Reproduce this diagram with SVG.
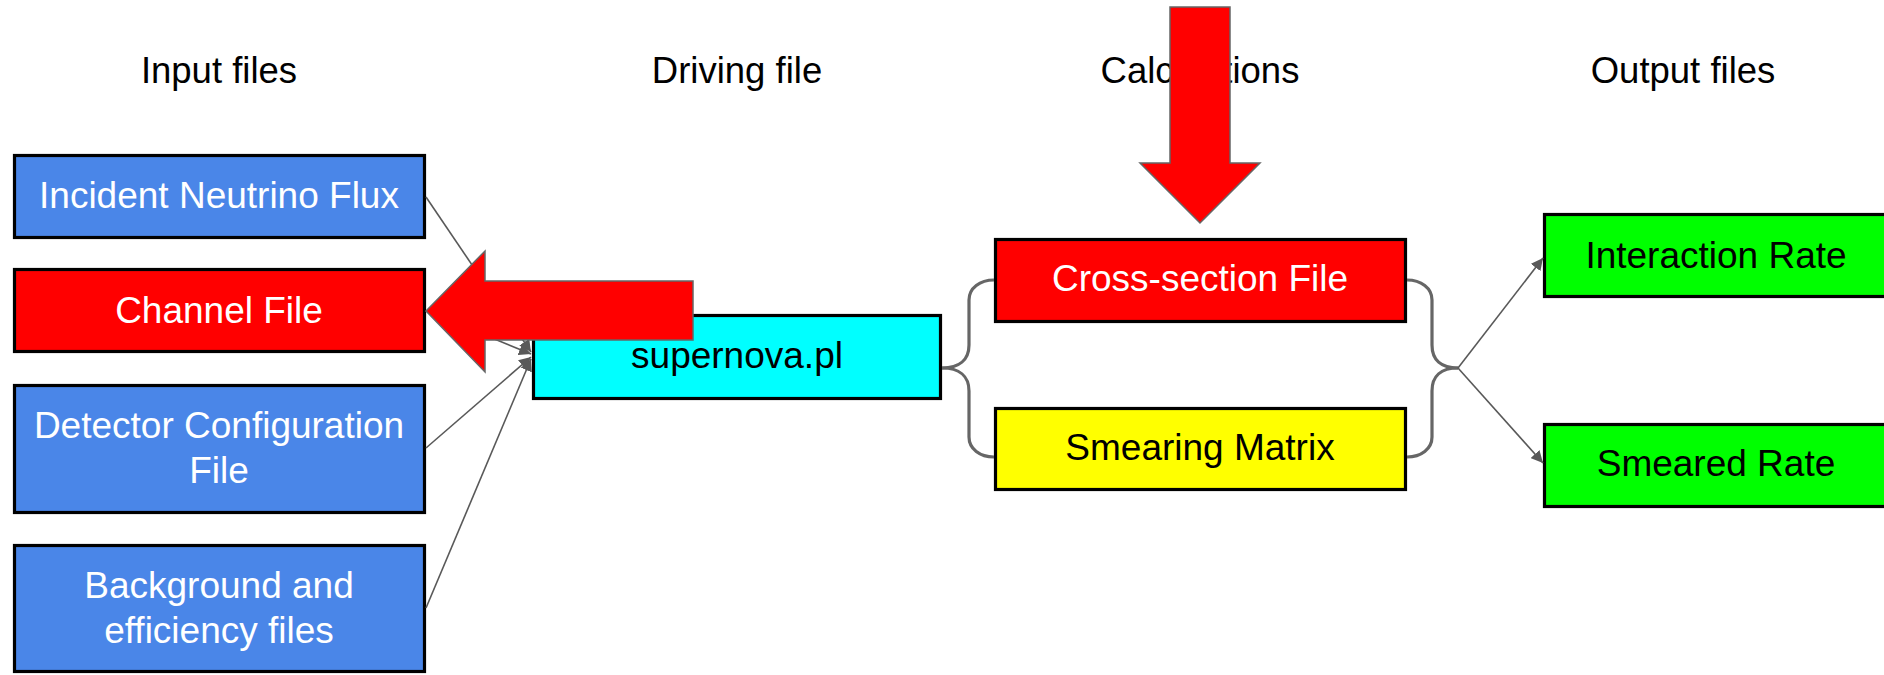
<svg xmlns="http://www.w3.org/2000/svg" width="1884" height="675" viewBox="0 0 1884 675">
<style>
text{font-family:"Liberation Sans",Arial,sans-serif;font-size:37px;text-anchor:middle}
.hdr{fill:#000;font-size:36.5px}
.w{fill:#fff}
.k{fill:#000}
.box{stroke:#000;stroke-width:3.2}
.conn{stroke:#595959;stroke-width:1.6;fill:none}
.brace{stroke:#666;stroke-width:3.2;fill:none}
.big{fill:#ff0000;stroke:#666;stroke-width:1.5}
</style>
<defs>
<marker id="ah" markerUnits="userSpaceOnUse" markerWidth="14" markerHeight="12" refX="12" refY="6" orient="auto">
<path d="M0,0 L12,6 L0,12 z" fill="#595959"/>
</marker>
</defs>
<rect width="1884" height="675" fill="#fff"/>
<g id="headers">
<text class="hdr" x="219" y="83">Input files</text>
<text class="hdr" x="737" y="83">Driving file</text>
<text class="hdr" x="1200" y="83">Calculations</text>
<text class="hdr" x="1683" y="83">Output files</text>
</g>
<g id="incident"><rect class="box" x="14.5" y="155.5" width="410" height="82" fill="#4a86e8"/><text class="w" x="219" y="208">Incident Neutrino Flux</text></g>
<g id="channel"><rect class="box" x="14.5" y="269.5" width="410" height="82" fill="#ff0000"/><text class="w" x="219" y="323">Channel File</text></g>
<g id="detector"><rect class="box" x="14.5" y="385.5" width="410" height="127" fill="#4a86e8"/><text class="w" x="219" y="438">Detector Configuration</text><text class="w" x="219" y="483">File</text></g>
<g id="background"><rect class="box" x="14.5" y="545.5" width="410" height="126" fill="#4a86e8"/><text class="w" x="219" y="598">Background and</text><text class="w" x="219" y="643">efficiency files</text></g>
<g id="supernova"><rect class="box" x="533.5" y="315.5" width="407" height="83" fill="#00ffff"/><text class="k" x="737" y="368">supernova.pl</text></g>
<g id="crosssection"><rect class="box" x="995.5" y="239.5" width="410" height="82" fill="#ff0000"/><text class="w" x="1200" y="291">Cross-section File</text></g>
<g id="smearing"><rect class="box" x="995.5" y="408.5" width="410" height="81" fill="#ffff00"/><text class="k" x="1200" y="460">Smearing Matrix</text></g>
<g id="interaction"><rect class="box" x="1544.5" y="214.5" width="350" height="82" fill="#00ff00"/><text class="k" x="1716" y="268">Interaction Rate</text></g>
<g id="smeared"><rect class="box" x="1544.5" y="424.5" width="350" height="82" fill="#00ff00"/><text class="k" x="1716" y="476">Smeared Rate</text></g>
<g id="connectors">
<line class="conn" x1="426" y1="197" x2="531" y2="352" marker-end="url(#ah)"/>
<line class="conn" x1="426" y1="311" x2="531" y2="354" marker-end="url(#ah)"/>
<line class="conn" x1="426" y1="448" x2="531" y2="357" marker-end="url(#ah)"/>
<line class="conn" x1="426" y1="608" x2="531" y2="359" marker-end="url(#ah)"/>
<path class="brace" d="M942,368 C959,368 969,360 969,345 L969,300 C969,288 980,280 994,280"/>
<path class="brace" d="M942,368 C959,368 969,376 969,391 L969,437 C969,449 980,457 994,457"/>
<path class="brace" d="M1407,280 C1421,280 1432,288 1432,300 L1432,345 C1432,360 1441,368 1458,368"/>
<path class="brace" d="M1407,457 C1421,457 1432,449 1432,437 L1432,391 C1432,376 1441,368 1458,368"/>
<line class="conn" x1="1458" y1="368" x2="1543" y2="258" marker-end="url(#ah)"/>
<line class="conn" x1="1458" y1="368" x2="1543" y2="463" marker-end="url(#ah)"/>
</g>
<g id="left-arrow"><polygon class="big" points="426,311 485,251 485,281 693,281 693,340 485,340 485,372"/></g>
<g id="down-arrow"><polygon class="big" points="1170,7 1230,7 1230,163 1260,163 1200,223 1140,163 1170,163"/></g>
</svg>
